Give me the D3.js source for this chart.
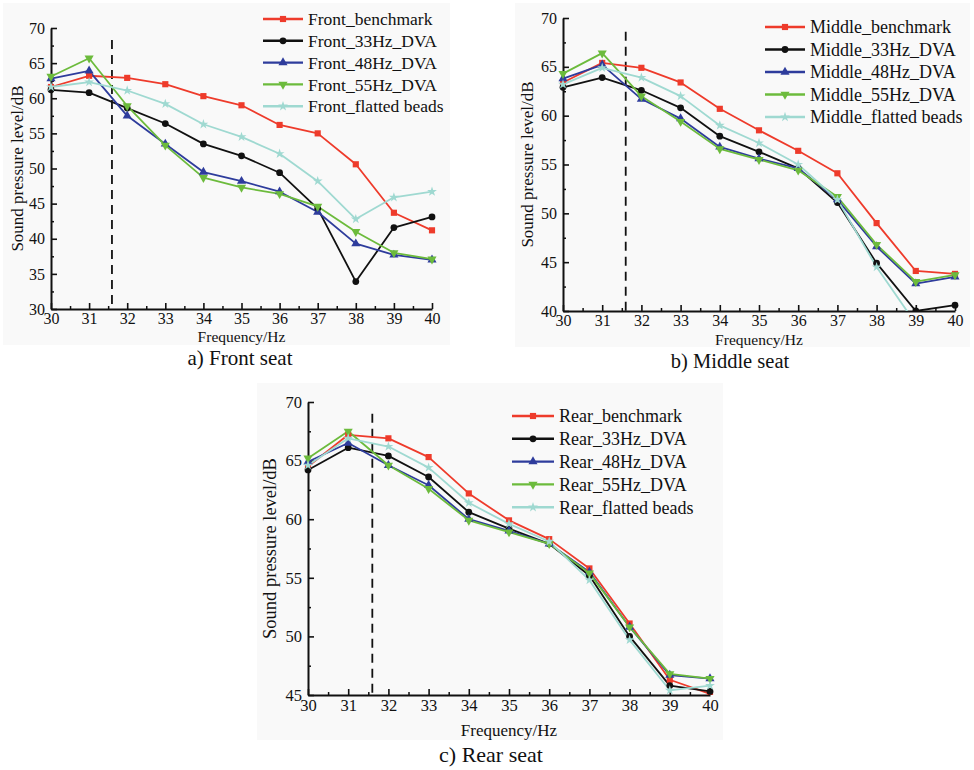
<!DOCTYPE html>
<html><head><meta charset="utf-8">
<script src="https://cdn.jsdelivr.net/npm/d3@7"></script>
<style>
body{margin:0;background:#fff}
text{font-family:"Liberation Serif","Times New Roman","DejaVu Serif",serif;fill:#111}
</style>
</head><body>
<svg id="chart" width="974" height="770"></svg>
<script>
// ---------------- DATA ----------------
const frequencies = [30,31,32,33,34,35,36,37,38,39,40];
const xTickValues = [30,31,32,33,34,35,36,37,38,39,40];
const seriesSuffixes = ["benchmark","33Hz_DVA","48Hz_DVA","55Hz_DVA","flatted beads"];
const seriesColors = ["#ee3b2b","#111111","#2e3c9c","#6cbb3c","#9fd9d1"];
const seriesMarkers = ["square","circle","triangle","triangleDown","star"];

const frontBenchmark = [61.6,63.2,62.9,62.0,60.3,59.0,56.2,55.0,50.6,43.7,41.2];
const front33Hz      = [61.2,60.8,58.6,56.4,53.5,51.8,49.4,44.3,33.9,41.6,43.1];
const front48Hz      = [62.8,63.9,57.5,53.5,49.5,48.2,46.7,43.8,39.3,37.7,37.0];
const front55Hz      = [63.1,65.7,58.9,53.3,48.7,47.3,46.4,44.6,41.0,38.0,37.1];
const frontFlatted   = [61.6,62.3,61.1,59.2,56.3,54.5,52.1,48.2,42.8,45.9,46.7];

const middleBenchmark = [63.4,65.4,64.9,63.4,60.7,58.5,56.4,54.1,49.0,44.1,43.8];
const middle33Hz      = [62.9,63.9,62.6,60.8,57.9,56.3,54.6,51.1,44.9,40.0,40.6];
const middle48Hz      = [63.8,65.2,61.7,59.7,56.8,55.6,54.6,51.4,46.6,42.8,43.5];
const middle55Hz      = [64.3,66.4,62.0,59.4,56.6,55.5,54.4,51.7,46.8,43.0,43.7];
const middleFlatted   = [63.2,64.9,63.9,62.0,59.0,57.2,55.0,51.4,44.5,38.7,38.0];

const rearBenchmark = [64.5,67.2,66.9,65.3,62.2,59.9,58.3,55.8,51.1,46.3,45.1];
const rear33Hz      = [64.2,66.1,65.4,63.6,60.6,59.2,57.9,55.2,50.0,45.8,45.3];
const rear48Hz      = [64.9,66.5,64.6,62.9,60.0,59.0,57.9,55.5,50.8,46.7,46.4];
const rear55Hz      = [65.2,67.5,64.6,62.6,59.9,58.9,57.9,55.4,50.8,46.8,46.4];
const rearFlatted   = [64.6,66.9,66.2,64.4,61.4,59.6,58.1,54.8,49.7,45.4,45.8];

const frontYTicks  = [30,35,40,45,50,55,60,65,70];
const middleYTicks = [40,45,50,55,60,65,70];
const rearYTicks   = [45,50,55,60,65,70];
const seatPrefixes = ["Front","Middle","Rear"];
const captions = ["a) Front seat","b) Middle seat","c) Rear seat"];
const dashedFrequency = 31.6;
const xTitle = "Frequency/Hz";
const yTitle = "Sound pressure level/dB";

// ---------------- LAYOUT ----------------
const panels = [
  {prefix:seatPrefixes[0], caption:captions[0], series:[frontBenchmark,front33Hz,front48Hz,front55Hz,frontFlatted],
   yTicks:frontYTicks, dashTop:68.3,
   bg:[3,3,447,342], x0:51, x1:432, yTop:28, yBot:309,
   leg:{lx0:263,lx1:303,tx:308,y0:19,dy:21.8,fs:17.5},
   tickFs:16, titleFs:15.5, yTitleX:17, xTitleY:337, capX:240, capY:358, capFs:21},
  {prefix:seatPrefixes[1], caption:captions[1], series:[middleBenchmark,middle33Hz,middle48Hz,middle55Hz,middleFlatted],
   yTicks:middleYTicks, dashTop:68.6,
   bg:[515,3,455,344], x0:563, x1:955, yTop:18, yBot:311,
   leg:{lx0:765,lx1:805,tx:810,y0:27,dy:22.5,fs:18},
   tickFs:16, titleFs:15.5, yTitleX:527, xTitleY:340, capX:730, capY:361, capFs:20.5},
  {prefix:seatPrefixes[2], caption:captions[2], series:[rearBenchmark,rear33Hz,rear48Hz,rear55Hz,rearFlatted],
   yTicks:rearYTicks, dashTop:69.0,
   bg:[257,383,466,357], x0:308, x1:710, yTop:402, yBot:695,
   leg:{lx0:512,lx1:554,tx:559,y0:416,dy:22.8,fs:18},
   tickFs:16.5, titleFs:17, yTitleX:270, xTitleY:730, capX:491, capY:754, capFs:22}
];

const svg = d3.select("#chart");

function markerPath(kind){
  switch(kind){
    case "square": return d3.symbol(d3.symbolSquare, 38)();
    case "circle": return d3.symbol(d3.symbolCircle, 36)();
    case "triangle": return d3.symbol(d3.symbolTriangle, 36)();
    case "triangleDown": return d3.symbol(d3.symbolTriangle, 36)();
    case "star": return d3.symbol(d3.symbolStar, 30)();
  }
}
const serif = '"Liberation Serif","Times New Roman","DejaVu Serif",serif';

panels.forEach((p, pi) => {
  const g = svg.append("g");
  g.append("rect").attr("x",p.bg[0]).attr("y",p.bg[1]).attr("width",p.bg[2]).attr("height",p.bg[3]).attr("fill","#f9f9f9");

  const yMin = d3.min(p.yTicks), yMax = d3.max(p.yTicks);
  const x = d3.scaleLinear().domain([d3.min(xTickValues), d3.max(xTickValues)]).range([p.x0, p.x1]);
  const y = d3.scaleLinear().domain([yMin, yMax]).range([p.yBot, p.yTop]);

  const clipId = "clip"+pi;
  svg.append("clipPath").attr("id",clipId).append("rect")
    .attr("x",p.x0-8).attr("y",p.yTop-10).attr("width",p.x1-p.x0+16).attr("height",p.yBot-p.yTop+10);

  // minor ticks
  const yMinor = d3.range(yMin+2.5, yMax, 5);
  g.append("g").attr("transform",`translate(${p.x0},0)`)
    .call(d3.axisLeft(y).tickValues(yMinor).tickSize(-3).tickSizeOuter(0).tickFormat(""))
    .call(a=>a.select(".domain").remove())
    .call(a=>a.selectAll("line").attr("stroke","#111").attr("stroke-width",1.5));
  const xMinor = d3.range(30.5, 40, 1);
  g.append("g").attr("transform",`translate(0,${p.yBot})`)
    .call(d3.axisBottom(x).tickValues(xMinor).tickSize(-3).tickSizeOuter(0).tickFormat(""))
    .call(a=>a.select(".domain").remove())
    .call(a=>a.selectAll("line").attr("stroke","#111").attr("stroke-width",1.5));

  // major axes
  g.append("g").attr("transform",`translate(${p.x0},0)`)
    .call(d3.axisLeft(y).tickValues(p.yTicks).tickSize(-6).tickSizeOuter(0).tickPadding(6))
    .call(a=>a.select(".domain").attr("stroke","#111").attr("stroke-width",2))
    .call(a=>a.selectAll("line").attr("stroke","#111").attr("stroke-width",1.6))
    .call(a=>a.selectAll("text").attr("font-size",p.tickFs).attr("fill","#111").attr("font-family",serif));
  g.append("g").attr("transform",`translate(0,${p.yBot})`)
    .call(d3.axisBottom(x).tickValues(xTickValues).tickSize(-6).tickSizeOuter(0).tickPadding(4))
    .call(a=>a.select(".domain").attr("stroke","#111").attr("stroke-width",2))
    .call(a=>a.selectAll("line").attr("stroke","#111").attr("stroke-width",1.6))
    .call(a=>a.selectAll("text").attr("font-size",p.tickFs).attr("fill","#111").attr("font-family",serif));

  // dashed line
  g.append("line").attr("x1",x(dashedFrequency)).attr("x2",x(dashedFrequency))
    .attr("y1",y(p.dashTop)).attr("y2",y(yMin))
    .attr("stroke","#111").attr("stroke-width",1.8).attr("stroke-dasharray","9,6");

  // series
  const lineGen = d3.line().x((d,i)=>x(frequencies[i])).y(d=>y(d));
  const plot = g.append("g").attr("clip-path",`url(#${clipId})`);
  p.series.forEach((vals, si) => {
    plot.append("path").attr("d",lineGen(vals)).attr("fill","none")
      .attr("stroke",seriesColors[si]).attr("stroke-width",1.8).attr("stroke-linejoin","round");
  });
  p.series.forEach((vals, si) => {
    plot.selectAll(null).data(vals).enter().append("path")
      .attr("d",markerPath(seriesMarkers[si]))
      .attr("transform",(d,i)=>`translate(${x(frequencies[i])},${y(d)})`+(seriesMarkers[si]==="triangleDown"?" rotate(180)":""))
      .attr("fill",seriesColors[si]);
  });

  // legend
  p.series.forEach((vals, si) => {
    const ly = p.leg.y0 + si*p.leg.dy;
    g.append("line").attr("x1",p.leg.lx0).attr("x2",p.leg.lx1).attr("y1",ly).attr("y2",ly)
      .attr("stroke",seriesColors[si]).attr("stroke-width",2.4);
    g.append("path").attr("d",markerPath(seriesMarkers[si]))
      .attr("transform",`translate(${(p.leg.lx0+p.leg.lx1)/2},${ly})`+(seriesMarkers[si]==="triangleDown"?" rotate(180)":""))
      .attr("fill",seriesColors[si]);
    g.append("text").attr("x",p.leg.tx).attr("y",ly).attr("dy","0.35em")
      .attr("font-size",p.leg.fs).text(p.prefix+"_"+seriesSuffixes[si]);
  });

  // titles
  g.append("text").attr("x",(p.x0+p.x1)/2).attr("y",p.xTitleY).attr("dy","0.35em")
    .attr("text-anchor","middle").attr("font-size",p.titleFs).text(xTitle);
  g.append("text").attr("transform",`translate(${p.yTitleX},${(p.yTop+p.yBot)/2}) rotate(-90)`)
    .attr("dy","0.35em").attr("text-anchor","middle").attr("font-size",p.titleFs+1.5).text(yTitle);
  svg.append("text").attr("x",p.capX).attr("y",p.capY).attr("dy","0.35em")
    .attr("text-anchor","middle").attr("font-size",p.capFs).text(p.caption);
});
</script>
</body></html>
